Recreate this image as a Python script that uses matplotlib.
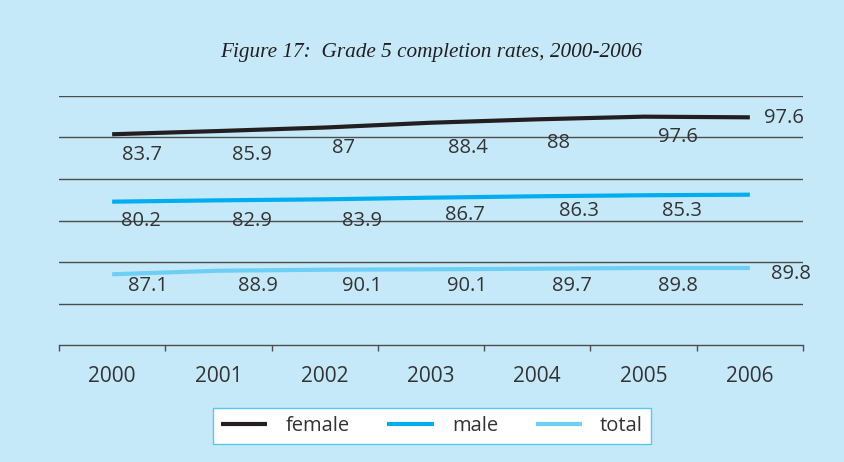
import matplotlib
matplotlib.use("Agg")
import matplotlib.pyplot as plt
from matplotlib.ticker import FixedLocator

# ---- data ----
years = ["2000", "2001", "2002", "2003", "2004", "2005", "2006"]
# plotted (stacked) line levels on a 0-300 scale
female_line = [253.9, 257.8, 262.0, 267.8, 271.9, 275.1, 274.3]
male_line = [172.7, 174.3, 175.5, 177.5, 179.2, 180.4, 181.1]
total_line = [85.2, 89.5, 90.7, 91.2, 91.9, 92.8, 92.8]
# data labels as printed
female_labels = ["83.7", "85.9", "87", "88.4", "88", "97.6", "97.6"]
male_labels = ["80.2", "82.9", "83.9", "86.7", "86.3", "85.3"]
total_labels = ["87.1", "88.9", "90.1", "90.1", "89.7", "89.8", "89.8"]
series_names = ["female", "male", "total"]

# label positions (category index, value)
female_lx = [0.277, 1.313, 2.18, 3.347, 4.204, 5.325, 6.323]
female_ly = [228.9, 228.9, 237.0, 237.3, 243.4, 251.0, 273.1]
male_lx = [0.267, 1.313, 2.349, 3.318, 4.392, 5.362]
male_ly = [149.4, 149.4, 149.4, 156.6, 161.4, 161.4]
total_lx = [0.333, 1.369, 2.349, 3.338, 4.327, 5.325, 6.389]
total_ly = [71.1, 71.1, 71.1, 71.1, 71.1, 71.1, 85.5]

bg = "#C6E9F9"
colors = ["#231F20", "#00AEEF", "#6DCFF6"]
txt = "#333333"
font = "Open Sans"

fig = plt.figure(figsize=(8.44, 4.62), dpi=100, facecolor=bg)
ax = fig.add_axes([59 / 844, 1 - 345 / 462, 744 / 844, 249 / 462])
ax.set_facecolor(bg)

x = list(range(len(years)))
for vals, c, name in zip([female_line, male_line, total_line], colors, series_names):
    ax.plot(x, vals, color=c, lw=3.0, solid_capstyle="butt", label=name, zorder=3)

for labs, lx, ly in [(female_labels, female_lx, female_ly),
                     (male_labels, male_lx, male_ly),
                     (total_labels, total_lx, total_ly)]:
    for s, xx, yy in zip(labs, lx, ly):
        ax.text(xx, yy, s, ha="center", va="center", fontsize=14.5, color=txt,
                family=font, zorder=4)

ax.set_xlim(-0.5, 6.5)
ax.set_ylim(0, 300)
ax.set_yticks([50, 100, 150, 200, 250, 300])
ax.yaxis.grid(True, color="#4D4D4D", lw=1.0)
ax.set_axisbelow(True)
ax.tick_params(axis="y", left=False, labelleft=False)
for sp in ["left", "right", "top"]:
    ax.spines[sp].set_visible(False)
ax.spines["bottom"].set_color("#4D4D4D")
ax.spines["bottom"].set_linewidth(1.0)

ax.set_xticks(x)
ax.set_xticklabels(years)
ax.xaxis.set_minor_locator(FixedLocator([i - 0.5 for i in range(len(years) + 1)]))
ax.tick_params(axis="x", which="major", length=0, pad=15, labelsize=15,
               labelcolor=txt)
ax.tick_params(axis="x", which="minor", length=4, width=1.0, color="#4D4D4D",
               direction="out")
for lbl in ax.get_xticklabels():
    lbl.set_family(font)

fig.text(431 / 844, 1 - 52 / 462, "Figure 17:  Grade 5 completion rates, 2000-2006",
         ha="center", va="center", fontsize=15.3, style="italic",
         family="Liberation Serif", color="#231F20")

leg = fig.legend(loc="center",
                 bbox_to_anchor=(213 / 844, 1 - 444 / 462, 438 / 844, 36 / 462),
                 mode="expand", ncol=3, frameon=True, fancybox=False,
                 handlelength=2.3, handletextpad=0.9, borderpad=0.4,
                 borderaxespad=0.0, columnspacing=1.0, framealpha=1.0,
                 prop={"family": font, "size": 14.5})
leg.get_frame().set_facecolor("white")
leg.get_frame().set_edgecolor("#55C8F0")
leg.get_frame().set_linewidth(1.0)
for t in leg.get_texts():
    t.set_color(txt)

fig.savefig("out.png", dpi=100, facecolor=bg)
